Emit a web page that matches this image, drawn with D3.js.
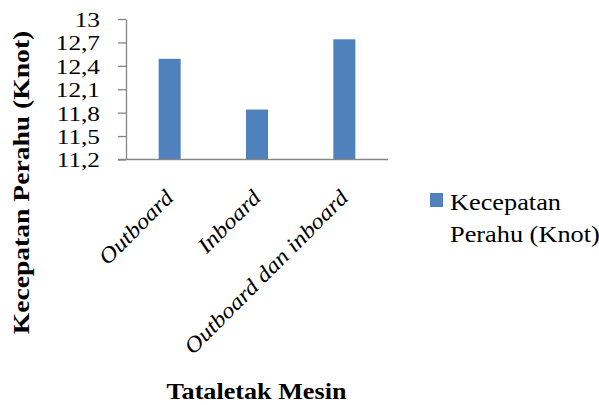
<!DOCTYPE html>
<html>
<head>
<meta charset="utf-8">
<script src="https://cdn.jsdelivr.net/npm/d3@7"></script>
<style>
  html, body { margin: 0; padding: 0; background: #fff; }
  svg { display: block; }
  text { font-family: "Liberation Serif", "Times New Roman", serif !important; fill: #000; }
</style>
</head>
<body>
<script>
const categories = ["Outboard", "Inboard", "Outboard dan inboard"];
const values = [12.49, 11.84, 12.74];
const tickValues = [11.2, 11.5, 11.8, 12.1, 12.4, 12.7, 13];
const tickLabels = ["11,2", "11,5", "11,8", "12,1", "12,4", "12,7", "13"];
const seriesName = "Kecepatan Perahu (Knot)";
const legendLines = ["Kecepatan", "Perahu (Knot)"];
const xTitle = "Tataletak Mesin";
const yTitle = "Kecepatan Perahu (Knot)";

const W = 599, H = 405;
const svg = d3.select("body").append("svg").attr("width", W).attr("height", H);

const plot = { left: 126, right: 388, top: 19, bottom: 159.5 };
const x = d3.scaleBand().domain(categories).range([plot.left, plot.right]).padding(0);
const y = d3.scaleLinear().domain([11.2, 13]).range([plot.bottom, plot.top]);
const barW = x.bandwidth() * 0.252;
const axisColor = "#868686";

// bars
svg.append("g").selectAll("rect").data(values).join("rect")
  .attr("x", (d, i) => x(categories[i]) + x.bandwidth() / 2 - barW / 2)
  .attr("y", d => y(d))
  .attr("width", barW)
  .attr("height", d => y(11.2) - y(d))
  .attr("fill", "#4F81BD");

// y axis
const yAxis = d3.axisLeft(y).tickValues(tickValues)
  .tickFormat((d, i) => tickLabels[i]).tickSize(8).tickSizeOuter(0);
const gy = svg.append("g").attr("transform", `translate(${plot.left},0)`).call(yAxis)
  .attr("font-family", null);
gy.select(".domain").attr("stroke", axisColor).attr("stroke-width", 1.3);
gy.selectAll(".tick line").attr("stroke", axisColor).attr("stroke-width", 1.3);
gy.selectAll(".tick text")
  .attr("x", null).attr("dy", null)
  .attr("text-anchor", "end")
  .attr("font-size", 22)
  .attr("fill", "#000")
  .attr("dominant-baseline", "central")
  .attr("transform", "translate(-26,0) scale(1.15,1)");

// x axis
const xAxis = d3.axisBottom(x).tickSize(0).tickSizeOuter(0).tickFormat("");
const gx = svg.append("g").attr("transform", `translate(0,${plot.bottom})`).call(xAxis);
gx.select(".domain").attr("d", `M${plot.left - 8},0H${plot.right}`)
  .attr("stroke", axisColor).attr("stroke-width", 1.3);

// x category labels rotated
svg.append("g").selectAll("text").data(categories).join("text")
  .attr("transform", d => `translate(${x(d) + x.bandwidth() / 2 + 5},199) rotate(-45) scale(1.12,1)`)
  .attr("text-anchor", "end")
  .attr("font-size", 22)
  .attr("font-style", "italic")
  .text(d => d);

// y title
svg.append("text")
  .attr("transform", `translate(29,182.5) rotate(-90) scale(1.15,1)`)
  .attr("text-anchor", "middle")
  .attr("font-size", 24)
  .attr("font-weight", "bold")
  .text(yTitle);

// x title
svg.append("text")
  .attr("transform", `translate(256.5,399) scale(1.09,1)`)
  .attr("text-anchor", "middle")
  .attr("font-size", 24)
  .attr("font-weight", "bold")
  .text(xTitle);

// legend
const lg = svg.append("g");
lg.append("rect").attr("x", 430).attr("y", 193).attr("width", 13).attr("height", 14).attr("fill", "#4F81BD");
lg.selectAll("text").data(legendLines).join("text")
  .attr("transform", (d, i) => `translate(450,${210 + i * 32}) scale(1.17,1)`)
  .attr("font-size", 22.5)
  .text(d => d);
</script>
</body>
</html>
